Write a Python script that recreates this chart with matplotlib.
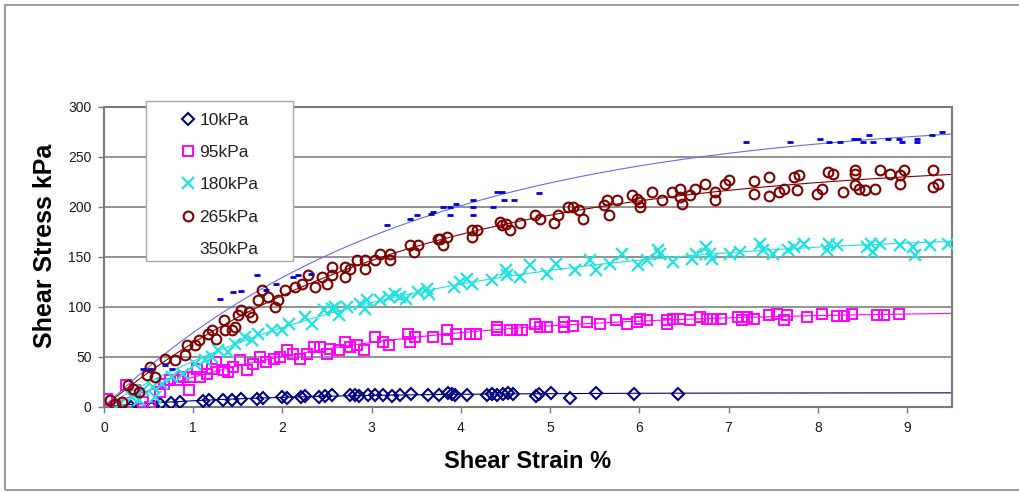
import matplotlib
matplotlib.use('Agg')
import matplotlib.pyplot as plt
from matplotlib.lines import Line2D
from matplotlib.patches import Rectangle
import numpy as np

plt.rcParams['font.family'] = ['Liberation Sans', 'DejaVu Sans']

# shear strain (%) / shear stress (kPa)
p10_x = [0.12, 0.30, 0.39, 0.55, 0.63, 0.75, 0.85, 1.11, 1.18, 1.33,
         1.44, 1.53, 1.71, 1.78, 1.99, 2.05, 2.21, 2.25, 2.41, 2.48,
         2.55, 2.76, 2.81, 2.86, 2.96, 3.04, 3.13, 3.23, 3.32, 3.44,
         3.63, 3.75, 3.86, 3.90, 3.93, 4.07, 4.29, 4.35, 4.40, 4.47,
         4.53, 4.58, 4.84, 4.88, 5.01, 5.22, 5.51, 5.94, 6.43]
p10_y = [2, 0, 1, 1, 3, 4, 5, 6, 7, 7,
         7, 8, 8, 9, 10, 9, 10, 11, 10, 11,
         12, 12, 12, 11, 12, 12, 12, 11, 12, 13,
         12, 12, 14, 13, 12, 12, 12, 13, 12, 13,
         14, 13, 11, 13, 14, 9, 14, 13, 13]

p95_x = [0.03, 0.12, 0.25, 0.35, 0.44, 0.52, 0.63, 0.67, 0.74, 0.83,
         0.89, 0.95, 0.96, 1.04, 1.08, 1.15, 1.21, 1.26, 1.34, 1.39,
         1.45, 1.52, 1.60, 1.67, 1.75, 1.82, 1.90, 1.97, 2.05, 2.12,
         2.20, 2.27, 2.35, 2.42, 2.50, 2.53, 2.63, 2.70, 2.76, 2.83,
         2.91, 3.04, 3.13, 3.19, 3.41, 3.43, 3.49, 3.69, 3.84, 3.84,
         3.95, 4.10, 4.17, 4.40, 4.40, 4.55, 4.63, 4.68, 4.83, 4.89,
         4.96, 5.15, 5.15, 5.26, 5.41, 5.56, 5.74, 5.86, 5.97, 6.01,
         6.08, 6.31, 6.31, 6.38, 6.46, 6.57, 6.68, 6.76, 6.83, 6.91,
         7.10, 7.15, 7.21, 7.28, 7.45, 7.54, 7.62, 7.65, 7.88, 8.05,
         8.21, 8.29, 8.38, 8.66, 8.74, 8.91]
p95_y = [8, 0, 22, 17, 5, 0, 15, 23, 27, 27,
         30, 17, 30, 38, 30, 33, 38, 45, 37, 35,
         40, 47, 37, 43, 50, 45, 48, 50, 57, 53,
         48, 53, 60, 60, 53, 58, 57, 65, 60, 62,
         57, 70, 65, 62, 73, 65, 70, 70, 77, 68,
         73, 73, 73, 80, 77, 77, 77, 77, 83, 80,
         80, 85, 80, 81, 85, 83, 87, 83, 85, 88,
         87, 87, 83, 88, 88, 87, 90, 88, 88, 88,
         90, 87, 90, 88, 92, 93, 87, 92, 90, 93,
         91, 91, 93, 92, 92, 93]

p180_x = [0.18, 0.31, 0.39, 0.44, 0.55, 0.57, 0.65, 0.76, 0.89, 1.02,
          1.13, 1.21, 1.28, 1.39, 1.47, 1.58, 1.66, 1.73, 1.88, 1.99,
          2.07, 2.25, 2.33, 2.46, 2.55, 2.59, 2.63, 2.72, 2.87, 2.93,
          2.95, 3.09, 3.19, 3.26, 3.32, 3.39, 3.52, 3.62, 3.64, 3.92,
          3.99, 4.07, 4.12, 4.35, 4.50, 4.52, 4.66, 4.77, 4.96, 5.07,
          5.28, 5.45, 5.51, 5.67, 5.80, 5.99, 6.08, 6.21, 6.23, 6.38,
          6.59, 6.64, 6.75, 6.79, 6.81, 7.02, 7.13, 7.35, 7.39, 7.50,
          7.67, 7.73, 7.84, 8.10, 8.12, 8.21, 8.55, 8.60, 8.62, 8.70,
          8.92, 9.07, 9.09, 9.26, 9.46]
p180_y = [3, 10, 7, 17, 20, 10, 23, 30, 33, 43,
          47, 50, 57, 55, 63, 70, 67, 73, 77, 77,
          83, 90, 83, 97, 98, 100, 92, 100, 103, 98,
          107, 107, 110, 113, 110, 108, 115, 118, 113, 120,
          125, 128, 123, 127, 137, 132, 130, 142, 133, 143,
          137, 147, 137, 143, 153, 142, 147, 157, 153, 145,
          148, 153, 160, 153, 148, 153, 155, 163, 157, 153,
          157, 160, 163, 157, 163, 162, 160, 163, 155, 163,
          162, 160, 152, 162, 163]

p265_x = [0.07, 0.12, 0.20, 0.27, 0.33, 0.39, 0.48, 0.52, 0.57, 0.68,
          0.80, 0.91, 0.93, 1.02, 1.06, 1.17, 1.21, 1.26, 1.34, 1.36,
          1.43, 1.47, 1.50, 1.54, 1.62, 1.66, 1.73, 1.77, 1.84, 1.92,
          1.95, 2.03, 2.14, 2.22, 2.29, 2.37, 2.44, 2.50, 2.55, 2.55,
          2.70, 2.70, 2.76, 2.83, 2.93, 2.93, 3.04, 3.09, 3.20, 3.20,
          3.43, 3.47, 3.52, 3.74, 3.77, 3.80, 3.84, 4.12, 4.12, 4.18,
          4.44, 4.46, 4.51, 4.55, 4.66, 4.83, 4.89, 5.04, 5.09, 5.20,
          5.26, 5.32, 5.37, 5.60, 5.64, 5.66, 5.75, 5.92, 5.97, 6.01,
          6.01, 6.14, 6.25, 6.36, 6.46, 6.46, 6.48, 6.57, 6.62, 6.74,
          6.85, 6.85, 6.96, 7.00, 7.28, 7.28, 7.45, 7.45, 7.56, 7.62,
          7.73, 7.77, 7.79, 7.99, 8.05, 8.11, 8.17, 8.28, 8.42, 8.42,
          8.42, 8.46, 8.53, 8.64, 8.70, 8.81, 8.92, 8.92, 8.96, 9.29,
          9.29, 9.35]
p265_y = [7, 3, 5, 22, 18, 15, 32, 40, 30, 48,
          47, 52, 62, 62, 67, 73, 77, 68, 87, 77,
          77, 80, 92, 97, 95, 90, 107, 117, 110, 100,
          107, 117, 120, 123, 132, 120, 130, 123, 132, 140,
          130, 140, 138, 147, 147, 138, 147, 153, 153, 147,
          162, 155, 162, 168, 168, 162, 170, 177, 170, 177,
          185, 182, 183, 177, 184, 192, 188, 184, 192, 200,
          200, 197, 188, 202, 207, 192, 207, 212, 208, 205,
          200, 215, 207, 215, 218, 210, 203, 212, 218, 223,
          215, 207, 223, 227, 226, 213, 230, 211, 215, 218,
          230, 217, 232, 213, 218, 235, 233, 215, 237, 233,
          222, 218, 217, 218, 237, 233, 223, 232, 237, 237,
          220, 223]

p350_x = [0.44, 0.52, 0.68, 0.76, 1.30, 1.45, 1.54, 1.71, 1.82, 1.93,
          2.12, 2.17, 2.32, 3.17, 3.43, 3.51, 3.66, 3.69, 3.80, 3.88,
          3.88, 3.94, 4.14, 4.14, 4.14, 4.36, 4.40, 4.46, 4.48, 4.59,
          4.87, 7.20, 7.69, 8.02, 8.13, 8.25, 8.40, 8.45, 8.51,
          8.57, 8.62, 8.79, 8.91, 8.94, 9.11, 9.11, 9.28, 9.39]
p350_y = [38, 38, 42, 38, 108, 115, 116, 132, 117, 123,
          130, 132, 133, 182, 188, 192, 193, 195, 200, 200,
          192, 203, 207, 200, 192, 200, 215, 215, 207, 207,
          214, 265, 265, 268, 265, 265, 268, 268, 265,
          272, 265, 268, 268, 265, 268, 265, 272, 275]

labels = ['10kPa', '95kPa', '180kPa', '265kPa', '350kPa']


def sat_fit(x, y):
    # y = A(1 - exp(-x/b)), brute force on b
    x = np.asarray(x, float)
    y = np.asarray(y, float)
    best = None
    for b in np.linspace(0.2, 12, 600):
        f = 1 - np.exp(-x / b)
        A = (f * y).sum() / (f * f).sum()
        sse = ((A * f - y) ** 2).sum()
        if best is None or sse < best[0]:
            best = (sse, A, b)
    return best[1], best[2]


series = [
    (p10_x, p10_y, dict(marker='D', ms=6, mfc='none', mec='#000080', mew=1.5), '#000080'),
    (p95_x, p95_y, dict(marker='s', ms=7, mfc='none', mec='#ff00ff', mew=1.4), '#ff00ff'),
    (p180_x, p180_y, dict(marker='x', ms=8, mec='#22e2e2', mew=1.6), '#22e2e2'),
    (p265_x, p265_y, dict(marker='o', ms=7, mfc='none', mec='#800000', mew=1.5), '#800000'),
    (p350_x, p350_y, dict(marker='_', ms=4.5, mec='#0000dd', mew=2.0), '#6a6ae8'),
]

fig = plt.figure(figsize=(10.2, 4.92), dpi=100)
ax = fig.add_axes([104 / 1020, 85.3 / 492, 847.7 / 1020, 300 / 492])

xs = np.linspace(0, 9.5, 300)
handles = []
for (x, y, style, lc), lab in zip(series, labels):
    A, b = sat_fit(x, y)
    ax.plot(xs, A * (1 - np.exp(-xs / b)), color=lc, lw=0.8, zorder=2)
    h, = ax.plot(x, y, linestyle='none', zorder=3, **style)
    handles.append(h)
# 350kPa shows no symbol in the key
handles[-1] = Line2D([], [], linestyle='none')

ax.set_xlim(0, 9.5)
ax.set_ylim(0, 300)
ax.set_xticks(range(0, 10))
ax.set_yticks(range(0, 301, 50))
ax.yaxis.grid(True, color='#8a8a8a', lw=1.3)
ax.set_axisbelow(True)
for s in ax.spines.values():
    s.set_color('#7a7a7a')
    s.set_linewidth(1.5)
ax.tick_params(direction='out', length=4, width=1, color='#7a7a7a',
               labelsize=10, labelcolor='#1a1a1a')
ax.tick_params(axis='x', pad=6)
ax.tick_params(axis='y', pad=5)

ax.set_xlabel('Shear Strain %', fontsize=17, fontweight='bold')
ax.set_ylabel('Shear Stress kPa', fontsize=18, fontweight='bold')
ax.xaxis.label.set_va('center')
ax.yaxis.label.set_va('center')
ax.yaxis.label.set_ha('center')
ax.xaxis.set_label_coords(0.4996, -0.184)
ax.yaxis.set_label_coords(-0.0696, 0.537)

# legend box and key
box = Rectangle((146 / 1020, 231 / 492), 147 / 1020, 160 / 492,
                transform=fig.transFigure, facecolor='white',
                edgecolor='#a8a8a8', lw=1.0, zorder=5)
fig.add_artist(box)
leg = fig.legend(handles, labels, loc='upper left',
                 bbox_to_anchor=(181 / 1020, (492 - 113) / 492),
                 borderaxespad=0, borderpad=0, frameon=False,
                 fontsize=12.5, handlelength=0.8, handletextpad=0.25,
                 labelspacing=0.98, numpoints=1)
leg.set_zorder(6)
for t in leg.get_texts():
    t.set_color('#222222')

# outer chart frame
fig.add_artist(Rectangle((5 / 1020, 2 / 492), 1.2, 485 / 492,
                         transform=fig.transFigure, fill=False,
                         edgecolor='#8a8a8a', lw=1.2))

fig.savefig('out.png', dpi=100)
